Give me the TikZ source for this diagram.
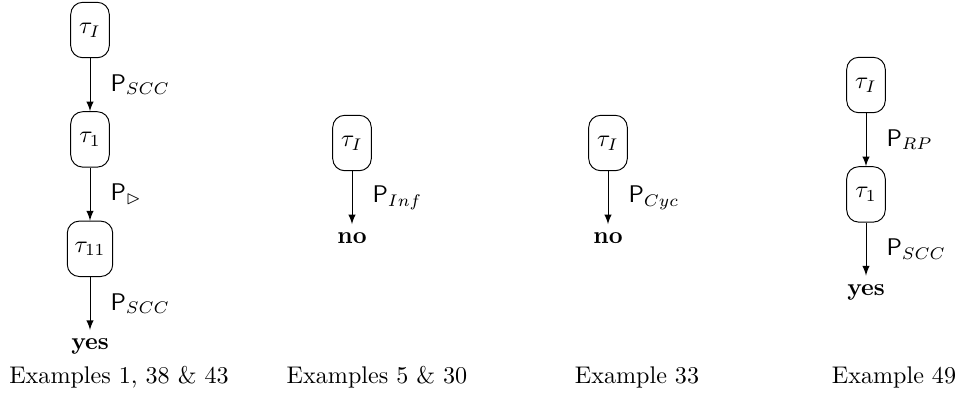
\documentclass[tikz,border=0pt]{standalone}
\usepackage{amsmath}
\usepackage{amssymb}
\usetikzlibrary{positioning}

\begin{document}
\begin{tikzpicture}[x=0.415pt, y=-0.415pt,
  state/.style={draw, rounded corners=5pt, minimum width=16pt, minimum height=23pt, inner sep=3pt},
  trans/.style={-latex},
  lbl/.style={right=5pt, midway},
  node distance=22pt]

\useasboundingbox (0,0) rectangle (961,403);

% Examples 1, 38 & 43
\node[state] (a0) at (90,30) {$\tau_I$};
\node[state, below=of a0] (a1) {$\tau_1$};
\node[state, below=of a1] (a2) {$\tau_{11}$};
\node[below=of a2] (a3) {\textbf{yes}};
\draw[trans] (a0) -- node[lbl] {$\mathsf{P}_{SCC}$} (a1);
\draw[trans] (a1) -- node[lbl] {$\mathsf{P}_{\rhd}$} (a2);
\draw[trans] (a2) -- node[lbl] {$\mathsf{P}_{SCC}$} (a3);

% Examples 5 & 30
\node[state] (b0) at (352,143) {$\tau_I$};
\node[below=of b0] (b1) {\textbf{no}};
\draw[trans] (b0) -- node[lbl] {$\mathsf{P}_{Inf}$} (b1);

% Example 33
\node[state] (c0) at (608,143) {$\tau_I$};
\node[below=of c0] (c1) {\textbf{no}};
\draw[trans] (c0) -- node[lbl] {$\mathsf{P}_{Cyc}$} (c1);

% Example 49
\node[state] (d0) at (866,85) {$\tau_I$};
\node[state, below=of d0] (d1) {$\tau_1$};
\node[below=of d1] (d2) {\textbf{yes}};
\draw[trans] (d0) -- node[lbl] {$\mathsf{P}_{RP}$} (d1);
\draw[trans] (d1) -- node[lbl] {$\mathsf{P}_{SCC}$} (d2);

% Captions
\node (capa) at (119,377) {Examples 1, 38 \& 43};
\node (capb) at (377,377) {Examples 5 \& 30};
\node (capc) at (637,377) {Example 33};
\node (capd) at (894,377) {Example 49};

\end{tikzpicture}
\end{document}
